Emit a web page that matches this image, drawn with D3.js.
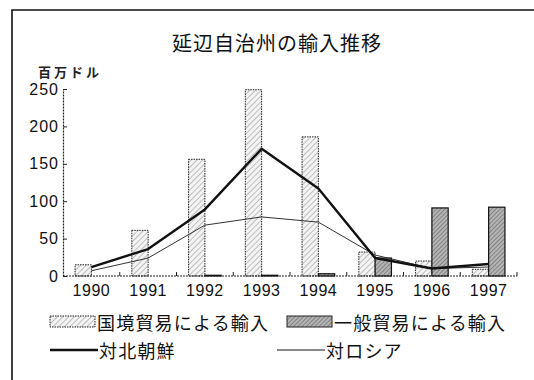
<!DOCTYPE html>
<html>
<head>
<meta charset="utf-8">
<script src="https://cdn.jsdelivr.net/npm/d3@7/dist/d3.min.js"></script>
<style>
  html, body { margin: 0; padding: 0; background: #fff; }
  svg { display: block; }
</style>
</head>
<body>
<script>
// Yanbian Autonomous Prefecture imports, million US dollars
const years = ["1990", "1991", "1992", "1993", "1994", "1995", "1996", "1997"];
const borderTrade = [15, 61, 156, 249, 186, 32, 20, 9];   // 国境貿易による輸入
const generalTrade = [0, 0, 1, 1, 3, 24, 91, 92];         // 一般貿易による輸入
const toNorthKorea = [12, 36, 89, 170, 117, 24, 10, 16];  // 対北朝鮮
const toRussia = [7, 24, 68, 79, 72, 28, 10, 12];         // 対ロシア
const yTicks = [0, 50, 100, 150, 200, 250];

const title = "延辺自治州の輸入推移";
const unitLabel = "百万ドル";
const barNames = ["国境貿易による輸入", "一般貿易による輸入"];
const lineNames = ["対北朝鮮", "対ロシア"];

const W = 534, H = 380;
const jp = "'Noto Sans CJK JP', 'Noto Sans', sans-serif";
const num = "'Liberation Sans', Arial, sans-serif";

const svg = d3.select("body").append("svg").attr("width", W).attr("height", H);

// Fill patterns
const defs = svg.append("defs");
const hatch = defs.append("pattern").attr("id", "hatch")
  .attr("patternUnits", "userSpaceOnUse").attr("width", 4).attr("height", 4)
  .attr("patternTransform", "rotate(45)");
hatch.append("rect").attr("width", 4).attr("height", 4).attr("fill", "#f4f4f4");
hatch.append("line").attr("x1", 0).attr("y1", 0).attr("x2", 0).attr("y2", 4)
  .attr("stroke", "#9a9a9a").attr("stroke-width", 1.2);

const dense = defs.append("pattern").attr("id", "dense")
  .attr("patternUnits", "userSpaceOnUse").attr("width", 3).attr("height", 3)
  .attr("patternTransform", "rotate(45)");
dense.append("rect").attr("width", 3).attr("height", 3).attr("fill", "#b4b4b4");
dense.append("line").attr("x1", 0).attr("y1", 0).attr("x2", 0).attr("y2", 3)
  .attr("stroke", "#555").attr("stroke-width", 1);

// Frame (left and top edges)
svg.append("path").attr("d", `M12,${H} V10 H${W}`)
  .attr("fill", "none").attr("stroke", "#111").attr("stroke-width", 1.6);

// Title and unit
svg.append("text").attr("x", 277).attr("y", 42)
  .attr("text-anchor", "middle").attr("dominant-baseline", "central")
  .attr("font-family", jp).attr("font-size", 20).attr("letter-spacing", 1)
  .attr("fill", "#111").text(title);

svg.append("text").attr("x", 38).attr("y", 71)
  .attr("dominant-baseline", "central")
  .attr("font-family", jp).attr("font-size", 13).attr("font-weight", 700)
  .attr("letter-spacing", 3).attr("fill", "#222").text(unitLabel);

// Scales
const x = d3.scaleBand().domain(years).range([63, 517]).paddingInner(0).paddingOuter(0);
const xSub = d3.scaleBand().domain(["border", "general"]).range([0, x.bandwidth()])
  .paddingInner(0).paddingOuter(0.74);
const y = d3.scaleLinear().domain([0, 250]).range([276, 89]);
const cx = d => x(d) + x.bandwidth() / 2;

// Bars
const g = svg.append("g");
g.selectAll("rect.border").data(years).join("rect").attr("class", "border")
  .attr("x", d => x(d) + xSub("border"))
  .attr("y", (d, i) => y(borderTrade[i]))
  .attr("width", xSub.bandwidth())
  .attr("height", (d, i) => y(0) - y(borderTrade[i]))
  .attr("fill", "url(#hatch)").attr("stroke", "#222").attr("stroke-width", 1)
  .attr("stroke-dasharray", "1.5,1");

g.selectAll("rect.general").data(years).join("rect").attr("class", "general")
  .attr("x", d => x(d) + xSub("general"))
  .attr("y", (d, i) => y(generalTrade[i]))
  .attr("width", xSub.bandwidth())
  .attr("height", (d, i) => y(0) - y(generalTrade[i]))
  .attr("fill", "url(#dense)").attr("stroke", "#111").attr("stroke-width", 1.2);

// Lines
const line = d3.line().x((d, i) => cx(years[i])).y(d => y(d));
svg.append("path").datum(toRussia).attr("d", line)
  .attr("fill", "none").attr("stroke", "#333").attr("stroke-width", 1);
svg.append("path").datum(toNorthKorea).attr("d", line)
  .attr("fill", "none").attr("stroke", "#111").attr("stroke-width", 2.4)
  .attr("stroke-linejoin", "round");

// Y axis
const yAxis = svg.append("g").attr("transform", "translate(63,0)")
  .call(d3.axisLeft(y).tickValues(yTicks).tickSizeInner(-4).tickSizeOuter(0).tickPadding(4));
yAxis.select(".domain").attr("stroke", "#222").attr("stroke-width", 1.2)
  .attr("stroke-dasharray", "2,1");
yAxis.selectAll(".tick line").attr("stroke", "#222");
yAxis.selectAll("text").attr("font-family", num).attr("font-size", 16)
  .attr("letter-spacing", 1).attr("fill", "#111");

// X axis: baseline with small ticks at band boundaries
const xAxis = svg.append("g").attr("transform", `translate(0,${y(0)})`);
xAxis.append("line").attr("x1", x.range()[0]).attr("x2", x.range()[1])
  .attr("stroke", "#222").attr("stroke-width", 1.2).attr("stroke-dasharray", "2,1");
xAxis.selectAll("line.b").data(years.slice(1).concat(["end"])).join("line").attr("class", "b")
  .attr("x1", (d, i) => x(years[0]) + (i + 1) * x.step())
  .attr("x2", (d, i) => x(years[0]) + (i + 1) * x.step())
  .attr("y1", 0).attr("y2", -4).attr("stroke", "#222");
xAxis.selectAll("text").data(years).join("text")
  .attr("x", d => cx(d)).attr("y", 20)
  .attr("text-anchor", "middle")
  .attr("font-family", num).attr("font-size", 16).attr("letter-spacing", 0.5)
  .attr("fill", "#111").text(d => d);

// Legend
const lg = svg.append("g").attr("font-family", jp).attr("font-size", 18)
  .attr("letter-spacing", 1.2).attr("fill", "#111");
const barKeys = [{ x: 50, fill: "url(#hatch)", dash: "1.5,1" }, { x: 287, fill: "url(#dense)", dash: null }];
barKeys.forEach((k, i) => {
  lg.append("rect").attr("x", k.x).attr("y", 316).attr("width", 45).attr("height", 11)
    .attr("fill", k.fill).attr("stroke", "#222").attr("stroke-width", 1)
    .attr("stroke-dasharray", k.dash);
  lg.append("text").attr("x", k.x + 47).attr("y", 322)
    .attr("dominant-baseline", "central").text(barNames[i]);
});
const lineKeys = [{ x: 50, w: 2.4 }, { x: 277, w: 1 }];
lineKeys.forEach((k, i) => {
  lg.append("line").attr("x1", k.x).attr("x2", k.x + 48).attr("y1", 350).attr("y2", 350)
    .attr("stroke", "#111").attr("stroke-width", k.w);
  lg.append("text").attr("x", k.x + 49).attr("y", 350)
    .attr("dominant-baseline", "central").text(lineNames[i]);
});
</script>
</body>
</html>
